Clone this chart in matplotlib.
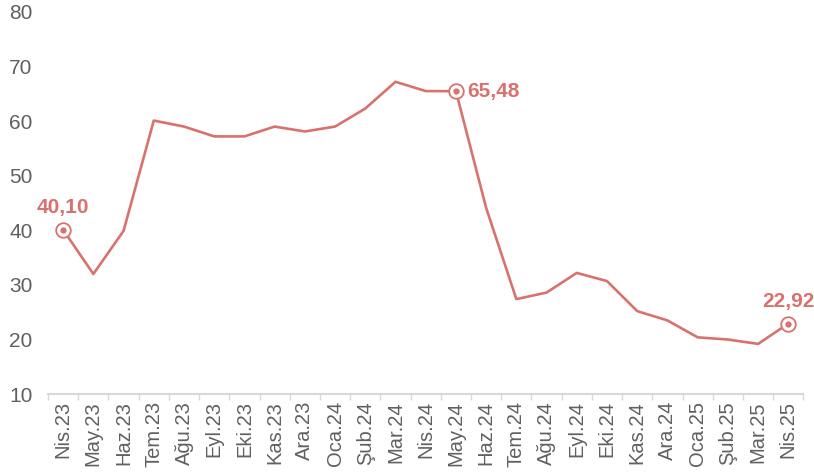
import matplotlib.pyplot as plt

# Data
months = ['Nis.23', 'May.23', 'Haz.23', 'Tem.23', 'Ağu.23', 'Eyl.23', 'Eki.23', 'Kas.23',
          'Ara.23', 'Oca.24', 'Şub.24', 'Mar.24', 'Nis.24', 'May.24', 'Haz.24', 'Tem.24',
          'Ağu.24', 'Eyl.24', 'Eki.24', 'Kas.24', 'Ara.24', 'Oca.25', 'Şub.25', 'Mar.25',
          'Nis.25']
values = [40.10, 32.0, 39.9, 60.1, 59.0, 57.2, 57.2, 59.0, 58.1, 59.0, 62.3, 67.2,
          65.5, 65.48, 44.1, 27.4, 28.6, 32.2, 30.7, 25.2, 23.5, 20.4, 20.0, 19.2, 22.92]
highlight = [0, 13, 24]
labels = ['40,10', '65,48', '22,92']

red = '#D9716D'
gray = '#606060'

plt.rcParams['font.family'] = ['Liberation Sans', 'DejaVu Sans']

fig = plt.figure(figsize=(8.14, 4.76), dpi=100)
ax = fig.add_axes([0.059, 0.172, 0.928, 0.803])

x = list(range(len(months)))
ax.plot(x, values, color=red, lw=1.9, zorder=3)

# highlighted points
hx = [x[i] for i in highlight]
hy = [values[i] for i in highlight]
ax.plot(hx, hy, 'o', ms=10.5, mfc='white', mec=red, mew=1.3, zorder=4)
ax.plot(hx, hy, 'o', ms=3.5, color=red, zorder=5)

ax.annotate(labels[0], (hx[0], hy[0]), xytext=(0, 9), textcoords='offset points',
            ha='center', va='bottom', color=red, fontsize=15, fontweight='bold')
ax.annotate(labels[1], (hx[1], hy[1]), xytext=(8, 0), textcoords='offset points',
            ha='left', va='center', color=red, fontsize=15, fontweight='bold')
ax.annotate(labels[2], (hx[2], hy[2]), xytext=(0, 9), textcoords='offset points',
            ha='center', va='bottom', color=red, fontsize=15, fontweight='bold')

ax.set_xlim(-0.5, len(months) - 0.5)
ax.set_ylim(10, 80)
ax.set_yticks(range(10, 81, 10))
ax.set_xticks(x)
ax.set_xticklabels(months, rotation=90, fontsize=14.5, color=gray)
ax.set_xticks([i - 0.5 for i in range(len(months) + 1)], minor=True)
ax.tick_params(axis='x', which='major', length=0, pad=5)
ax.tick_params(axis='x', which='minor', length=4, color='#d8d8d8', width=1)
ax.tick_params(axis='y', length=0, pad=11, labelsize=15, labelcolor=gray)

for s in ['top', 'right', 'left']:
    ax.spines[s].set_visible(False)
ax.spines['bottom'].set_color('#d8d8d8')
ax.spines['bottom'].set_linewidth(1.5)

fig.savefig('out.png', dpi=100)
